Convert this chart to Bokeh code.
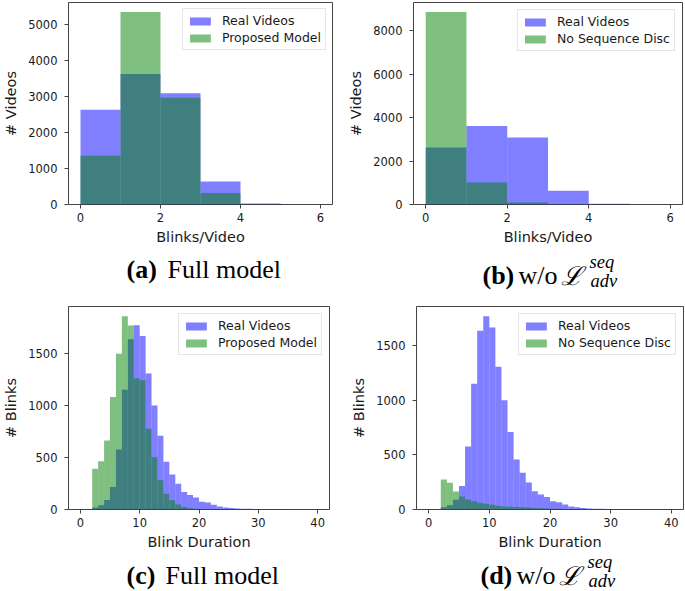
from bokeh.plotting import figure
from bokeh.models import Range1d, FixedTicker
from bokeh.layouts import column, row
from bokeh.embed import file_html
from bokeh.resources import INLINE
from bokeh.core.properties import value

# ---------------- data ----------------
video_bin_edges = [0, 1, 2, 3, 4, 5, 6]
real_blinks_per_video = [2630, 3620, 3090, 636, 30, 0]
proposed_blinks_per_video = [1350, 5340, 2960, 320, 10, 0]
noseq_blinks_per_video = [8870, 1010, 90, 10, 0, 0]

duration_bin_edges = list(range(0, 41))
real_duration = [0, 0, 20, 40, 90, 215, 575, 1150, 1634, 1768,
                 1665, 1305, 998, 708, 458, 335, 246, 168, 138, 115,
                 75, 66, 45, 28, 20, 14, 10, 8, 6, 5,
                 4, 3, 3, 2, 2, 1, 1, 1, 1, 2]
proposed_duration = [0, 0, 390, 464, 662, 1080, 1494, 1855, 1765, 1260,
                     1240, 774, 502, 280, 150, 88, 48, 24, 12, 6,
                     4, 2, 1, 0, 0, 0, 0, 0, 0, 0,
                     0, 0, 0, 0, 0, 0, 0, 0, 0, 0]
noseq_duration = [0, 0, 274, 244, 165, 119, 91, 76, 61, 52,
                  43, 34, 28, 25, 22, 20, 18, 14, 11, 9,
                  7, 6, 5, 4, 3, 3, 2, 2, 1, 1,
                  1, 1, 0, 0, 0, 0, 0, 0, 0, 0]

video_xticks = [0, 2, 4, 6]
duration_xticks = [0, 10, 20, 30, 40]
yticks_a = [0, 1000, 2000, 3000, 4000, 5000]
yticks_b = [0, 2000, 4000, 6000, 8000]
yticks_cd = [0, 500, 1000, 1500]

REAL_COLOR = "blue"
GEN_COLOR = "green"
SPINE = "#444444"
TXT = "#1a1a1a"


def make_hist(width, height, bl, br, bt, bb, edges, real, gen, gen_label,
              xticks, yticks, xlabel, ylabel, legend_margin):
    xmin, xmax = edges[0], edges[-1]
    pad = 0.05 * (xmax - xmin)
    ymax = max(max(real), max(gen)) * 1.05
    p = figure(width=width, height=height,
               x_range=Range1d(xmin - pad, xmax + pad),
               y_range=Range1d(0, ymax),
               output_backend="svg", toolbar_location=None,
               min_border_left=bl, min_border_right=br,
               min_border_top=bt, min_border_bottom=bb)
    p.xgrid.visible = False
    p.ygrid.visible = False
    p.outline_line_color = SPINE
    p.outline_line_width = 1
    p.background_fill_color = "white"
    p.border_fill_color = "white"

    p.quad(left=edges[:-1], right=edges[1:], bottom=0, top=real,
           fill_color=REAL_COLOR, fill_alpha=0.5, line_color=None,
           legend_label="Real Videos")
    p.quad(left=edges[:-1], right=edges[1:], bottom=0, top=gen,
           fill_color=GEN_COLOR, fill_alpha=0.5, line_color=None,
           legend_label=gen_label)

    p.xaxis.ticker = FixedTicker(ticks=xticks)
    p.yaxis.ticker = FixedTicker(ticks=yticks)
    for ax in (p.xaxis[0], p.yaxis[0]):
        ax.axis_line_color = None
        ax.major_tick_line_color = SPINE
        ax.major_tick_in = 0
        ax.major_tick_out = 4
        ax.minor_tick_line_color = None
        ax.major_label_text_font = "DejaVu Sans"
        ax.major_label_text_font_size = "11.5px"
        ax.major_label_text_color = TXT
        ax.axis_label_text_font = "DejaVu Sans"
        ax.axis_label_text_font_size = "14.5px"
        ax.axis_label_text_font_style = "normal"
        ax.axis_label_text_color = TXT
    p.xaxis.axis_label = xlabel
    p.yaxis.axis_label = ylabel
    p.xaxis.major_label_standoff = 4
    p.yaxis.major_label_standoff = 7
    p.xaxis.axis_label_standoff = 4
    p.yaxis.axis_label_standoff = 6

    lg = p.legend[0]
    lg.location = "top_right"
    lg.margin = legend_margin
    lg.padding = 4
    lg.spacing = 2
    lg.glyph_width = 26
    lg.glyph_height = 10
    lg.label_height = 15
    lg.label_standoff = 9
    lg.label_text_font = "DejaVu Sans"
    lg.label_text_font_size = "12.5px"
    lg.label_text_color = TXT
    lg.border_line_color = "#cccccc"
    lg.border_line_width = 1
    lg.background_fill_alpha = 0.8
    return p


def caption_fig(width, height):
    c = figure(width=width, height=height,
               x_range=Range1d(0, width), y_range=Range1d(0, height),
               output_backend="svg", toolbar_location=None,
               x_axis_location=None, y_axis_location=None,
               min_border_left=0, min_border_right=0,
               min_border_top=0, min_border_bottom=0)
    c.grid.visible = False
    c.outline_line_color = None
    c.background_fill_color = "white"
    c.border_fill_color = "white"
    return c


def put(c, x, y, text, size="26px", style="normal", font="Liberation Serif"):
    c.text(x=[x], y=[y], text=[text], text_font=value(font),
           text_font_size=value(size), text_font_style=style,
           text_color="black", text_align="left",
           text_baseline="alphabetic")


pa = make_hist(342, 250, 65, 10, 2, 46, video_bin_edges,
               real_blinks_per_video, proposed_blinks_per_video,
               "Proposed Model", video_xticks, yticks_a,
               "Blinks/Video", "# Videos", 6)
pb = make_hist(343, 250, 71, 3, 2, 46, video_bin_edges,
               real_blinks_per_video, noseq_blinks_per_video,
               "No Sequence Disc", video_xticks, yticks_b,
               "Blinks/Video", "# Videos", 7)
pc = make_hist(342, 257, 61, 13, 11, 43, duration_bin_edges,
               real_duration, proposed_duration,
               "Proposed Model", duration_xticks, yticks_cd,
               "Blink Duration", "# Blinks", 7)
pd_ = make_hist(343, 257, 74, 2, 11, 43, duration_bin_edges,
                real_duration, noseq_duration,
                "No Sequence Disc", duration_xticks, yticks_cd,
                "Blink Duration", "# Blinks", 7)

# caption strips
ca = caption_fig(342, 45)
cb = caption_fig(343, 45)
cc = caption_fig(342, 39)
cd = caption_fig(343, 39)

put(ca, 126, 26, "(a)", style="bold")
put(ca, 167, 26, "Full model")
put(cc, 126, 16, "(c)", style="bold")
put(cc, 165, 16, "Full model")

for c, lab, x0, yb in ((cb, "(b)", 140, 20), (cd, "(d)", 138, 16)):
    put(c, x0, yb, lab, style="bold")
    put(c, x0 + 36, yb, "w/o")
    put(c, x0 + 78, yb, "\u2112", size="26px", style="italic", font="DejaVu Serif")
    put(c, x0 + 107, yb + 14, "seq", size="18.5px", style="italic")
    put(c, x0 + 108, yb - 5, "adv", size="18.5px", style="italic")

layout = column(row(pa, pb, spacing=0), row(ca, cb, spacing=0),
                row(pc, pd_, spacing=0), row(cc, cd, spacing=0), spacing=0)
open("out.html", "w").write(file_html(layout, INLINE))
